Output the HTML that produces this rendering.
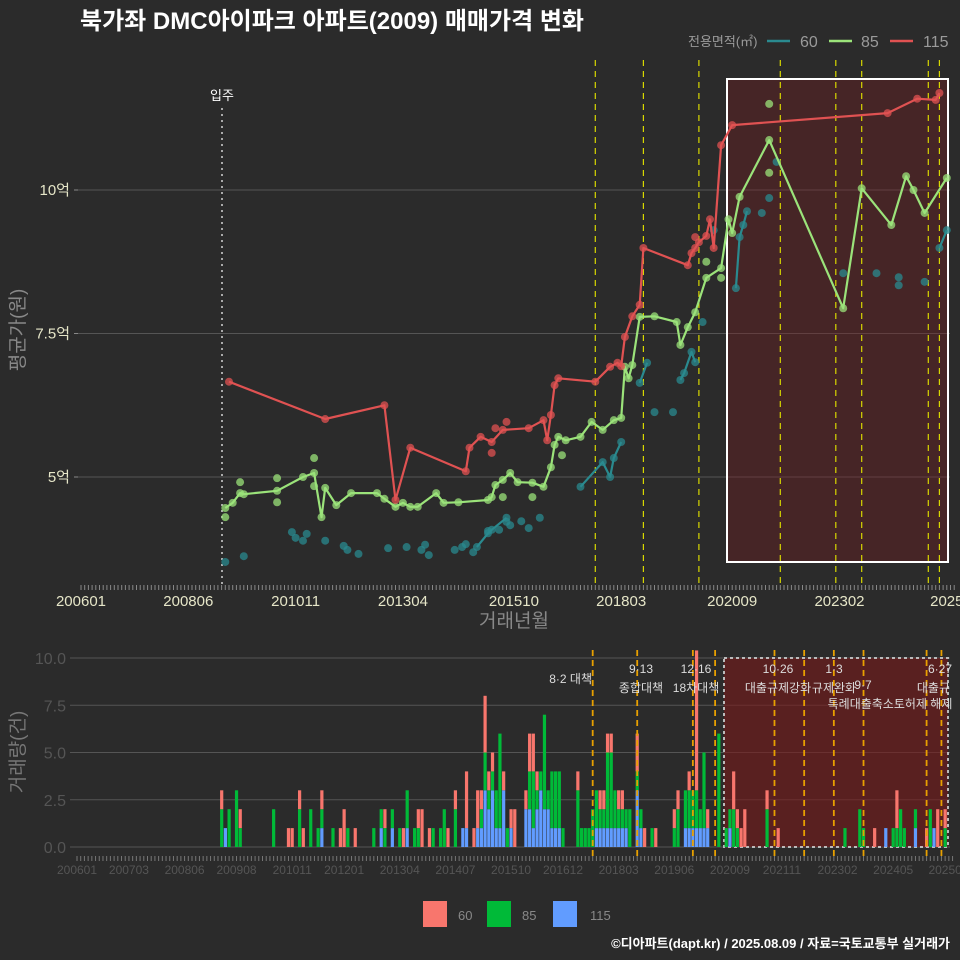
<!DOCTYPE html>
<html><head><meta charset="utf-8">
<style>
html,body{margin:0;padding:0;background:#2b2b2b;}
svg{display:block;font-family:"Liberation Sans","Noto Sans CJK KR",sans-serif;}
</style></head>
<body>
<svg id="chart" width="960" height="960" viewBox="0 0 960 960" xmlns="http://www.w3.org/2000/svg">
<rect x="0" y="0" width="960" height="960" fill="#2b2b2b"/>
<text x="80" y="29" font-size="24" font-weight="bold" fill="#ffffff">북가좌 DMC아이파크 아파트(2009) 매매가격 변화</text>
<g>
<text x="688" y="46" font-size="13" fill="#9a9a9a">전용면적(㎡)</text>
<line x1="767" y1="41" x2="790" y2="41" stroke="#2a8a8f" stroke-width="2.5"/>
<text x="800" y="47" font-size="16" fill="#9a9a9a">60</text>
<line x1="829" y1="41" x2="852" y2="41" stroke="#9be37a" stroke-width="2.5"/>
<text x="861" y="47" font-size="16" fill="#9a9a9a">85</text>
<line x1="890" y1="41" x2="913" y2="41" stroke="#e05252" stroke-width="2.5"/>
<text x="923" y="47" font-size="16" fill="#9a9a9a">115</text>
</g>
<g id="topPanel"></g>
<g id="botPanel"></g>
<g>
<rect x="423" y="901" width="24" height="26" fill="#f8766d"/>
<text x="458" y="920" font-size="13" fill="#888">60</text>
<rect x="487" y="901" width="24" height="26" fill="#00ba38"/>
<text x="522" y="920" font-size="13" fill="#888">85</text>
<rect x="553" y="901" width="24" height="26" fill="#619cff"/>
<text x="590" y="920" font-size="13" fill="#888">115</text>
</g>
<text x="950" y="948" font-size="13" font-weight="bold" fill="#ffffff" text-anchor="end">©디아파트(dapt.kr) / 2025.08.09 / 자료=국토교통부 실거래가</text>
</svg>
<script>
// ---- price panel data (month index from 2006-01, price in 억) ----
const p115M = [40,66,82,85,89,104,105,108,111,114,121,125,126,127,128,129,139,143,145,146,147,149,151,152,164,165,166,167,169,170,171,173,176,218,226,231,232];
const p115V = [6.66,6.01,6.25,4.60,5.51,5.10,5.51,5.70,5.61,5.82,5.85,5.99,5.64,6.08,6.60,6.72,6.66,6.92,6.99,6.93,7.44,7.80,8.00,8.99,8.69,8.90,8.99,9.09,9.20,9.49,8.99,10.78,11.13,11.34,11.59,11.57,11.69];
const p85M = [39,41,43,44,53,60,63,65,66,69,73,80,82,85,87,89,91,96,98,102,110,111,112,114,116,118,122,125,127,128,129,131,135,138,141,144,146,147,148,149,151,155,161,162,164,166,169,173,175,176,178,186,206,211,219,223,225,228,234];
const p85V = [4.46,4.55,4.72,4.70,4.76,5.00,5.07,4.30,4.81,4.51,4.72,4.72,4.62,4.48,4.55,4.48,4.48,4.72,4.55,4.56,4.60,4.65,4.86,4.95,5.07,4.91,4.90,4.83,5.17,5.56,5.70,5.64,5.70,5.96,5.82,5.99,6.03,6.92,6.72,6.95,7.79,7.80,7.70,7.30,7.61,7.87,8.47,8.64,9.49,9.25,9.88,10.87,7.94,10.03,9.39,10.24,10.00,9.60,10.21];
const p60M = [107,110,111,115,null,135,141,143,144,146,null,151,153,null,162,163,165,166,null,177,178,179,180,null,232,234];
const p60V = [3.78,4.02,4.08,4.29,null,4.83,5.26,5.00,5.33,5.61,null,6.64,6.99,null,6.69,6.81,7.18,7.00,null,8.29,9.18,9.39,9.63,null,8.99,9.30];
const s60M = [39,44,57,58,60,61,66,71,72,75,83,88,92,93,94,101,103,104,106,110,113,115,116,119,121,124,155,160,168,171,184,188,186,206,215,221,221,228];
const s60V = [3.52,3.62,4.04,3.94,3.89,4.01,3.89,3.80,3.73,3.66,3.76,3.78,3.73,3.82,3.64,3.73,3.78,3.83,3.69,4.06,4.08,4.22,4.16,4.23,4.11,4.29,6.13,6.13,7.70,9.30,9.60,10.49,9.86,8.55,8.55,8.48,8.34,8.40];
const s85M = [39,43,53,53,63,63,114,122,130,169,186,186,173];
const s85V = [4.30,4.91,4.98,4.56,5.33,4.84,4.65,4.65,5.38,8.75,11.50,10.30,8.47];
const s115M = [112,115,111,166];
const s115V = [5.85,5.96,5.42,9.18];
const topTickM = [0,29,58,87,117,146,176,205,234];
const topTickL = ['200601','200806','201011','201304','201510','201803','202009','202302','2025'];
const yTickV = [5,7.5,10];
const yTickL = ['5억','7.5억','10억'];
const topPolicyM = [139,152,167,189,204,211,229,232];
// ---- volume panel data ----
const barM = [39,40,41,43,44,53,57,58,60,61,63,65,66,69,71,72,73,75,80,82,83,85,87,88,89,91,92,93,95,96,98,99,100,102,104,105,107,108,109,110,111,112,113,114,115,116,117,118,121,122,123,124,125,126,127,128,129,130,131,135,136,137,138,139,140,141,142,143,144,145,146,147,148,149,151,152,153,155,156,161,162,164,165,166,167,168,169,170,173,175,176,177,178,179,180,184,186,189,207,211,212,215,218,220,221,222,223,226,229,230,231,232,234];
const cnt115 = [0,1,0,0,0,0,0,0,0,0,0,0,1,0,0,0,0,0,0,1,0,1,0,0,1,0,0,0,0,0,0,0,0,0,1,1,0,1,1,3,2,3,1,1,3,0,1,0,2,2,1,2,3,2,2,1,1,1,0,0,0,0,0,0,1,1,1,1,1,1,1,1,1,0,3,1,0,0,0,0,0,1,1,1,1,1,1,1,0,0,1,0,0,0,0,0,0,0,0,0,0,0,1,0,0,0,0,1,0,0,1,0,0];
const cnt85 = [2,0,2,3,1,2,0,0,2,0,2,1,1,1,0,0,1,0,1,1,1,1,1,0,2,1,1,0,0,1,1,2,0,2,0,0,0,0,1,2,1,1,2,5,0,1,0,0,0,2,3,1,1,5,1,3,3,3,1,3,1,1,1,2,2,1,1,4,4,2,1,1,1,2,1,1,0,1,0,1,2,2,2,2,2,1,4,0,6,1,1,2,1,0,0,0,2,0,1,2,1,0,0,1,1,2,1,1,0,2,0,0,1];
const cnt60 = [1,0,0,0,1,0,1,1,1,1,0,0,1,0,1,2,0,1,0,0,1,0,0,1,0,0,1,2,1,0,0,0,1,1,0,3,1,2,1,3,1,1,0,0,1,0,1,2,1,2,2,1,0,0,0,0,0,0,0,1,0,0,0,0,0,1,1,1,1,0,1,1,0,0,2,0,1,0,1,1,1,0,1,0,8,0,0,1,0,0,0,2,1,1,2,0,1,1,0,0,0,1,0,0,2,0,0,0,1,0,0,2,1];
const botTickM = [0,14,29,43,58,72,87,102,117,131,146,161,176,190,205,220,234];
const botTickL = ['200601','200703','200806','200908','201011','201201','201304','201407','201510','201612','201803','201906','202009','202111','202302','202405','20250'];
const botYV = [0,2.5,5,7.5,10];
const botYL = ['0.0','2.5','5.0','7.5','10.0'];
const botPolicyM = [139,151,166,172,188,196,204,212,229,233];

const NS='http://www.w3.org/2000/svg';
function mk(parent,tag,attrs){const e=document.createElementNS(NS,tag);for(const k in attrs)e.setAttribute(k,attrs[k]);parent.appendChild(e);return e;}
const gTop=document.getElementById('topPanel'), gBot=document.getElementById('botPanel');
const xT=m=>81+m*3.7, yT=v=>477-(v-5)*57.4;
const xB=m=>77+m*3.71, yB=v=>847-v*18.9;

yTickV.forEach((v,i)=>{
  const g=mk(gTop,'line',{x1:78,x2:950,y1:yT(v),y2:yT(v),stroke:'#555','stroke-width':1});
  
  
  const t=mk(gTop,'text',{x:70,y:yT(v)+5,'font-size':15,fill:'#e6e6c8','text-anchor':'end'});
  t.textContent=yTickL[i];
  
  
  const tk=mk(gTop,'line',{x1:74,x2:78,y1:yT(v),y2:yT(v),stroke:'#888'});
  
  
});
const hr=mk(gTop,'rect',{x:727,y:79,width:221,height:483,fill:'rgba(120,25,30,0.35)',stroke:'#ffffff','stroke-width':2});


const mv=mk(gTop,'line',{x1:222,x2:222,y1:108,y2:585,stroke:'#aaa','stroke-width':2,'stroke-dasharray':'2,4'});


const mvt=mk(gTop,'text',{x:222,y:100,'font-size':13,fill:'#fff','text-anchor':'middle'});
mvt.textContent='입주';


topPolicyM.forEach(m=>{
  const l=mk(gTop,'line',{x1:xT(m),x2:xT(m),y1:60,y2:585,stroke:'#d8d800','stroke-width':1.2,'stroke-dasharray':'6,5'});
  
  
});
for(let m=0;m<=236;m++){
  const tk=mk(gTop,'line',{x1:xT(m),x2:xT(m),y1:585,y2:590,stroke:'#888','stroke-width':1});
  
  
}
topTickM.forEach((m,i)=>{
  const t=mk(gTop,'text',{x:xT(m),y:606,'font-size':15,fill:'#e6e6c8','text-anchor':'middle'});
  t.textContent=topTickL[i];
  
  
});
const xt=mk(gTop,'text',{x:514,y:627,'font-size':19,fill:'#888','text-anchor':'middle'});
xt.textContent='거래년월';


const yt=mk(gTop,'text',{x:0,y:0,'font-size':19,fill:'#888','text-anchor':'middle',transform:'translate(24,330) rotate(-90)'});
yt.textContent='평균가(원)';



function drawPts(M,V,col,name){
  M.forEach((m,i)=>{ if(m===null)return;
    const c=mk(gTop,'circle',{cx:xT(m),cy:yT(V[i]),r:4,fill:col,'fill-opacity':0.75});
    
    
  });
}
function drawLine(M,V,col,name){
  let d='',pen=false;
  M.forEach((m,i)=>{ if(m===null){pen=false;return;} d+=(pen?'L':'M')+xT(m).toFixed(1)+','+yT(V[i]).toFixed(1); pen=true;});
  const p=mk(gTop,'path',{d:d,fill:'none',stroke:col,'stroke-width':2.2,'stroke-linejoin':'round'});
  
  
}
drawPts(s60M,s60V,'#2a8a8f','point-60');
drawPts(p60M,p60V,'#2a8a8f','point-60');
drawLine(p60M,p60V,'#2a8a8f','line-60');
drawPts(s85M,s85V,'#9be37a','point-85');
drawPts(p85M,p85V,'#9be37a','point-85');
drawLine(p85M,p85V,'#9be37a','line-85');
drawPts(s115M,s115V,'#e05252','point-115');
drawPts(p115M,p115V,'#e05252','point-115');
drawLine(p115M,p115V,'#e05252','line-115');

botYV.forEach((v,i)=>{
  const g=mk(gBot,'line',{x1:70,x2:950,y1:yB(v),y2:yB(v),stroke:'#555','stroke-width':1});
  
  
  const t=mk(gBot,'text',{x:66,y:yB(v)+6,'font-size':16,fill:'#555','text-anchor':'end'});
  t.textContent=botYL[i];
  
  
});
const br=mk(gBot,'rect',{x:724,y:658,width:224,height:189,fill:'rgba(120,25,25,0.6)',stroke:'#bbb','stroke-width':2,'stroke-dasharray':'3,3'});


barM.forEach((m,i)=>{
  const x=xB(m)-1.6, w=3.2;
  let base=0;
  [[cnt115[i],'#619cff','bar-115'],[cnt85[i],'#00ba38','bar-85'],[cnt60[i],'#f8766d','bar-60']].forEach(s=>{
    if(s[0]>0){
      const t2=Math.min(base+s[0],10.4);
      const r=mk(gBot,'rect',{x:x,y:yB(t2),width:w,height:yB(base)-yB(t2),fill:s[1]});
      
      
      base+=s[0];
    }
  });
});
botPolicyM.forEach(m=>{
  const l=mk(gBot,'line',{x1:xB(m),x2:xB(m),y1:650,y2:856,stroke:'#e8a000','stroke-width':1.8,'stroke-dasharray':'6,4'});
  
  
});
for(let m=0;m<=236;m++){
  const tk=mk(gBot,'line',{x1:xB(m),x2:xB(m),y1:856,y2:861,stroke:'#777','stroke-width':1});
  
  
}
botTickM.forEach((m,i)=>{
  const t=mk(gBot,'text',{x:xB(m),y:874,'font-size':12,fill:'#555','text-anchor':'middle'});
  t.textContent=botTickL[i];
  
  
});
const byt=mk(gBot,'text',{x:0,y:0,'font-size':19,fill:'#777','text-anchor':'middle',transform:'translate(24,752) rotate(-90)'});
byt.textContent='거래량(건)';


const notes=[[592,683,'8·2 대책','end'],[641,673,'9·13','middle'],[641,692,'종합대책','middle'],[696,673,'12·16','middle'],[696,692,'18차대책','middle'],
 [778,673,'10·26','middle'],[778,692,'대출규제강화','middle'],[834,673,'1·3','middle'],[834,692,'규제완화','middle'],[863,689,'9·7','middle'],
 [890,708,'특례대출축소토허제 해제','middle'],[940,673,'6·27','middle'],[950,692,'대출규','end']];
notes.forEach(n=>{
  const t=mk(gBot,'text',{x:n[0],y:n[1],'font-size':12,fill:'#dddddd','text-anchor':n[3]});
  t.textContent=n[2];
  
  
});
</script>
</body></html>
